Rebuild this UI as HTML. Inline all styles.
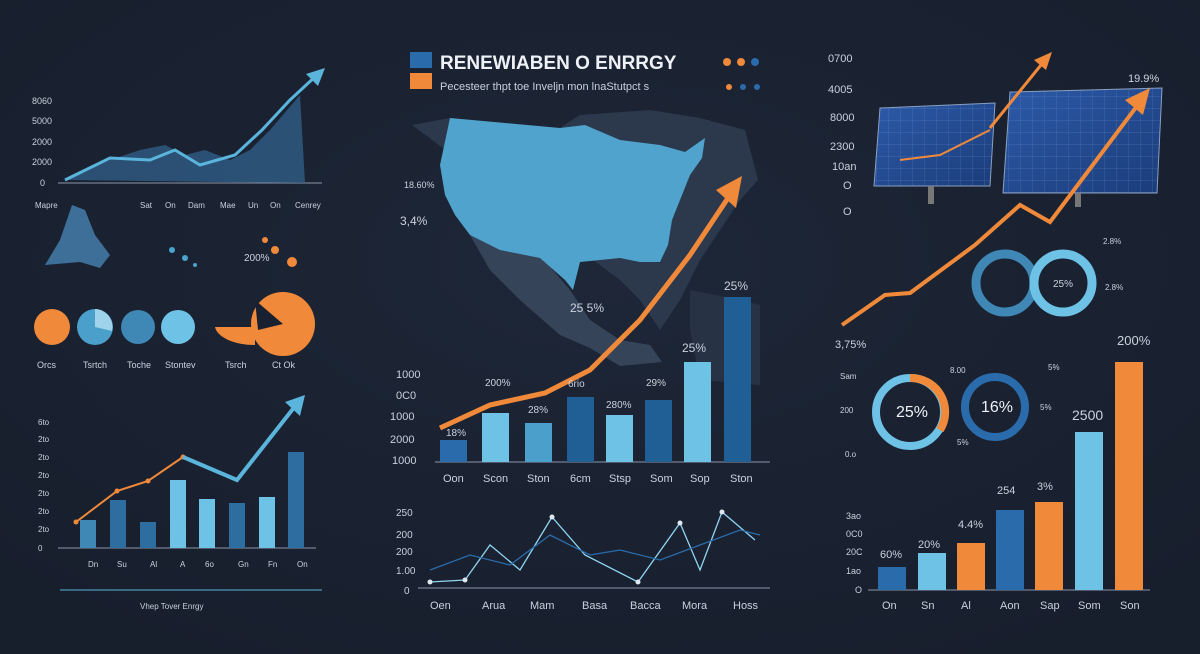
<!DOCTYPE html>
<html><head><meta charset="utf-8"><style>
html,body{margin:0;padding:0;background:#19202f;}
svg{display:block}
text{font-family:"Liberation Sans",sans-serif;fill:#c9d1dc}
</style></head><body>
<svg width="1200" height="654" viewBox="0 0 1200 654" xmlns="http://www.w3.org/2000/svg">
<defs>
<radialGradient id="bg" cx="50%" cy="40%" r="70%"><stop offset="0" stop-color="#1e2738"/><stop offset="1" stop-color="#171e2c"/></radialGradient>
<linearGradient id="pan" x1="0" y1="0" x2="1" y2="1"><stop offset="0" stop-color="#2c5aa8"/><stop offset="1" stop-color="#1b3c7a"/></linearGradient>
<pattern id="grid" width="12" height="12" patternUnits="userSpaceOnUse"><path d="M12 0 L0 0 0 12" fill="none" stroke="#7fa4d8" stroke-width="0.5" opacity="0.6"/></pattern>
</defs>
<rect width="1200" height="654" fill="url(#bg)"/>

<!-- LEFT TOP line chart -->
<g font-size="9">
<text x="32" y="104">8060</text><text x="32" y="124">5000</text><text x="32" y="145">2000</text><text x="32" y="165">2000</text><text x="40" y="186">0</text>
</g>
<line x1="58" y1="183" x2="322" y2="183" stroke="#8a96a8" stroke-width="1"/>
<path d="M65 180 L110 160 L140 150 L165 145 L185 155 L205 150 L230 160 L250 150 L270 130 L300 95 L305 183 Z" fill="#2f5d86" opacity="0.8"/>
<path d="M65 180 L110 158 L150 160 L175 150 L200 165 L235 155 L262 130 L290 100 L318 74" stroke="#5ab4dc" stroke-width="3" fill="none"/>
<polygon points="325,68 306,74 318,86" fill="#5ab4dc"/>
<g font-size="8"><text x="35" y="208">Mapre</text><text x="140" y="208">Sat</text><text x="165" y="208">On</text><text x="188" y="208">Dam</text><text x="220" y="208">Mae</text><text x="248" y="208">Un</text><text x="270" y="208">On</text><text x="295" y="208">Cenrey</text></g>
<path d="M45 265 L60 240 L72 205 L85 210 L95 235 L110 255 L100 268 L80 262 Z" fill="#3e6f99"/>
<circle cx="172" cy="250" r="3" fill="#4ba3cf"/><circle cx="185" cy="258" r="3" fill="#4ba3cf"/><circle cx="195" cy="265" r="2" fill="#4ba3cf"/>
<circle cx="265" cy="240" r="3" fill="#f08a3a"/><circle cx="275" cy="250" r="4" fill="#f08a3a"/><circle cx="292" cy="262" r="5" fill="#f08a3a"/>
<text x="244" y="261" font-size="10">200%</text>
<!-- circles row -->
<circle cx="52" cy="327" r="18" fill="#f08a3a"/>
<circle cx="95" cy="327" r="18" fill="#4aa0cb"/><path d="M95 327 L95 309 A18 18 0 0 1 112 331 Z" fill="#9fd3ec"/>
<circle cx="138" cy="327" r="17" fill="#3f87b5"/>
<circle cx="178" cy="327" r="17" fill="#6ec2e6"/>
<path d="M215 327 L255 327 L255 345 A40 20 0 0 1 215 327 Z" fill="#f08a3a"/>
<circle cx="283" cy="324" r="32" fill="#f08a3a"/><path d="M283 324 L255 300 L258 330 Z" fill="#19202f"/>
<g font-size="9"><text x="37" y="368">Orcs</text><text x="83" y="368">Tsrtch</text><text x="127" y="368">Toche</text><text x="165" y="368">Stontev</text><text x="225" y="368">Tsrch</text><text x="272" y="368">Ct Ok</text></g>
<!-- left bottom bars -->
<g font-size="8"><text x="38" y="425">6to</text><text x="38" y="442">2to</text><text x="38" y="460">2to</text><text x="38" y="478">2to</text><text x="38" y="496">2to</text><text x="38" y="514">2to</text><text x="38" y="532">2to</text><text x="38" y="551">0</text></g>
<line x1="58" y1="548" x2="316" y2="548" stroke="#8a96a8"/>
<rect x="80" y="520" width="16" height="28" fill="#3f87b5"/>
<rect x="110" y="500" width="16" height="48" fill="#2d6da0"/>
<rect x="140" y="522" width="16" height="26" fill="#2d6da0"/>
<rect x="170" y="480" width="16" height="68" fill="#6ec2e6"/>
<rect x="199" y="499" width="16" height="49" fill="#6ec2e6"/>
<rect x="229" y="503" width="16" height="45" fill="#2d6da0"/>
<rect x="259" y="497" width="16" height="51" fill="#6ec2e6"/>
<rect x="288" y="452" width="16" height="96" fill="#2d6da0"/>
<polyline points="76,522 117,491 148,481 183,457" stroke="#f08a3a" stroke-width="2" fill="none"/>
<g fill="#f08a3a"><circle cx="76" cy="522" r="2.5"/><circle cx="117" cy="491" r="2.5"/><circle cx="148" cy="481" r="2.5"/><circle cx="183" cy="457" r="2.5"/></g>
<polyline points="183,457 237,480 296,405" stroke="#5ab4dc" stroke-width="4" fill="none"/>
<polygon points="305,395 285,402 300,416" fill="#5ab4dc"/>
<g font-size="8"><text x="88" y="567">Dn</text><text x="117" y="567">Su</text><text x="150" y="567">Al</text><text x="180" y="567">A</text><text x="205" y="567">6o</text><text x="238" y="567">Gn</text><text x="268" y="567">Fn</text><text x="297" y="567">On</text></g>
<line x1="60" y1="590" x2="322" y2="590" stroke="#5ab4dc" stroke-width="1"/>
<text x="140" y="609" font-size="8">Vhep Tover Enrgy</text>

<!-- CENTER title -->
<rect x="410" y="52" width="22" height="16" fill="#2a6cab"/>
<rect x="410" y="73" width="22" height="16" fill="#f08a3a"/>
<text x="440" y="69" font-size="19" font-weight="bold" style="fill:#eef2f6">RENEWIABEN O ENRRGY</text>
<circle cx="727" cy="62" r="4" fill="#f08a3a"/><circle cx="741" cy="62" r="4" fill="#f08a3a"/><circle cx="755" cy="62" r="4" fill="#2a6cab"/>
<text x="440" y="90" font-size="11">Pecesteer  thpt  toe  Inveljn  mon  lnaStutpct  s</text>
<circle cx="729" cy="87" r="3" fill="#f08a3a"/><circle cx="743" cy="87" r="3" fill="#2a6cab"/><circle cx="757" cy="87" r="3" fill="#2a6cab"/>
<!-- map -->
<path d="M412 125 L450 118 L560 128 L580 115 L650 110 L700 118 L745 130 L758 180 L740 200 L720 230 L700 260 L680 300 L660 330 L640 300 L620 280 Z" fill="#2c394d"/>
<path d="M470 235 L540 255 L570 290 L590 320 L620 340 L650 345 L662 362 L620 366 L590 348 L560 335 L520 300 L490 270 Z" fill="#36445a"/>
<path d="M690 290 L740 300 L760 305 L760 385 L700 380 L690 330 Z" fill="#2a3648" opacity="0.8"/>
<path d="M450 118 L560 128 L585 125 L620 140 L660 145 L685 152 L705 138 L702 158 L690 175 L680 200 L672 220 L668 245 L660 262 L640 262 L620 258 L580 262 L573 290 L565 280 L540 258 L500 250 L470 235 L455 215 L445 195 L440 165 Z" fill="#4fa3cc"/>
<text x="404" y="188" font-size="9">18.60%</text>
<text x="400" y="225" font-size="12">3,4%</text>
<!-- center bars -->
<g font-size="11"><text x="396" y="378">1000</text><text x="396" y="399">0C0</text><text x="390" y="420">1000</text><text x="390" y="443">2000</text><text x="392" y="464">1000</text></g>
<line x1="435" y1="462" x2="770" y2="462" stroke="#8a96a8"/>
<rect x="440" y="440" width="27" height="22" fill="#2a6cab"/>
<rect x="482" y="413" width="27" height="49" fill="#6ec2e6"/>
<rect x="525" y="423" width="27" height="39" fill="#4aa0cb"/>
<rect x="567" y="397" width="27" height="65" fill="#1f5f95"/>
<rect x="606" y="415" width="27" height="47" fill="#6ec2e6"/>
<rect x="645" y="400" width="27" height="62" fill="#1f5f95"/>
<rect x="684" y="362" width="27" height="100" fill="#6ec2e6"/>
<rect x="724" y="297" width="27" height="165" fill="#1f5f95"/>
<path d="M440 428 L490 405 L545 393 L590 370 L640 320 L690 255 L730 195" stroke="#f08a3a" stroke-width="5" fill="none"/>
<polygon points="742,176 716,190 736,208" fill="#f08a3a"/>
<g font-size="10"><text x="446" y="436">18%</text><text x="485" y="386">200%</text><text x="528" y="413">28%</text><text x="568" y="387">6rio</text><text x="606" y="408">280%</text><text x="646" y="386">29%</text><text x="682" y="352" font-size="12">25%</text><text x="724" y="290" font-size="12">25%</text><text x="570" y="312" font-size="12">25 5%</text></g>
<g font-size="11"><text x="443" y="482">Oon</text><text x="483" y="482">Scon</text><text x="527" y="482">Ston</text><text x="570" y="482">6cm</text><text x="609" y="482">Stsp</text><text x="650" y="482">Som</text><text x="690" y="482">Sop</text><text x="730" y="482">Ston</text></g>
<!-- center bottom line chart -->
<g font-size="10"><text x="396" y="516">250</text><text x="396" y="538">200</text><text x="396" y="555">200</text><text x="396" y="574">1.00</text><text x="404" y="594">0</text></g>
<line x1="418" y1="588" x2="770" y2="588" stroke="#8a96a8"/>
<polyline points="430,582 465,580 490,545 520,570 552,517 585,555 638,582 680,523 700,570 722,512 755,540" stroke="#8fd4f0" stroke-width="1.3" fill="none"/>
<polyline points="430,570 470,555 510,565 550,535 590,555 620,550 660,560 700,545 740,530 760,535" stroke="#2a6cab" stroke-width="1.3" fill="none"/>
<g fill="#dfe8f0"><circle cx="430" cy="582" r="2.5"/><circle cx="465" cy="580" r="2.5"/><circle cx="552" cy="517" r="2.5"/><circle cx="638" cy="582" r="2.5"/><circle cx="680" cy="523" r="2.5"/><circle cx="722" cy="512" r="2.5"/></g>
<g font-size="11"><text x="430" y="609">Oen</text><text x="482" y="609">Arua</text><text x="530" y="609">Mam</text><text x="582" y="609">Basa</text><text x="630" y="609">Bacca</text><text x="682" y="609">Mora</text><text x="733" y="609">Hoss</text></g>

<!-- RIGHT TOP -->
<g font-size="11"><text x="828" y="62">0700</text><text x="828" y="93">4005</text><text x="830" y="121">8000</text><text x="830" y="150">2300</text><text x="832" y="170">10an</text><text x="843" y="189">O</text><text x="843" y="215">O</text></g>
<polygon points="880,108 995,103 990,186 874,186" fill="url(#pan)" stroke="#8aa0c0"/>
<polygon points="880,108 995,103 990,186 874,186" fill="url(#grid)"/>
<polygon points="1010,92 1162,88 1157,193 1003,193" fill="url(#pan)" stroke="#8aa0c0"/>
<polygon points="1010,92 1162,88 1157,193 1003,193" fill="url(#grid)"/>
<rect x="928" y="186" width="6" height="18" fill="#777"/><rect x="1075" y="193" width="6" height="14" fill="#777"/>
<text x="1128" y="82" font-size="11">19.9%</text>
<polyline points="900,160 940,155 990,130" stroke="#f08a3a" stroke-width="2" fill="none"/>
<path d="M842 325 L885 295 L910 293 L975 245 L1020 205 L1050 222 L1140 102" stroke="#f08a3a" stroke-width="4" fill="none"/>
<polygon points="1150,88 1125,100 1143,115" fill="#f08a3a"/>
<polyline points="990,128 1045,60" stroke="#f08a3a" stroke-width="3" fill="none"/><polygon points="1052,52 1034,60 1046,70" fill="#f08a3a"/>
<circle cx="1005" cy="283" r="29" fill="none" stroke="#3f87b5" stroke-width="9"/>
<circle cx="1063" cy="283" r="29" fill="none" stroke="#6ec2e6" stroke-width="9"/>
<text x="1053" y="287" font-size="10">25%</text>
<text x="1103" y="244" font-size="8">2.8%</text><text x="1105" y="290" font-size="8">2.8%</text>
<!-- right bottom -->
<text x="835" y="348" font-size="11">3,75%</text>
<text x="1117" y="345" font-size="13">200%</text>
<g font-size="8"><text x="840" y="379">Sam</text><text x="840" y="413">200</text><text x="845" y="457">0.o</text><text x="1048" y="370">5%</text><text x="1040" y="410">5%</text><text x="950" y="373">8.00</text><text x="957" y="445">5%</text></g>
<circle cx="910" cy="412" r="34" fill="none" stroke="#6ec2e6" stroke-width="8"/>
<path d="M910 378 A34 34 0 0 1 940 430" fill="none" stroke="#f08a3a" stroke-width="8"/>
<text x="896" y="417" font-size="16" style="fill:#eef2f6">25%</text>
<circle cx="995" cy="407" r="30" fill="none" stroke="#2a6cab" stroke-width="8"/>
<text x="981" y="412" font-size="16" style="fill:#eef2f6">16%</text>
<g font-size="9"><text x="846" y="519">3ao</text><text x="846" y="537">0C0</text><text x="846" y="555">20C</text><text x="846" y="574">1ao</text><text x="855" y="593">O</text></g>
<line x1="868" y1="590" x2="1150" y2="590" stroke="#8a96a8"/>
<rect x="878" y="567" width="28" height="23" fill="#2a6cab"/>
<rect x="918" y="553" width="28" height="37" fill="#6ec2e6"/>
<rect x="957" y="543" width="28" height="47" fill="#f08a3a"/>
<rect x="996" y="510" width="28" height="80" fill="#2a6cab"/>
<rect x="1035" y="502" width="28" height="88" fill="#f08a3a"/>
<rect x="1075" y="432" width="28" height="158" fill="#6ec2e6"/>
<rect x="1115" y="362" width="28" height="228" fill="#f08a3a"/>
<g font-size="11"><text x="880" y="558">60%</text><text x="918" y="548">20%</text><text x="958" y="528">4.4%</text><text x="997" y="494">254</text><text x="1037" y="490">3%</text><text x="1072" y="420" font-size="14">2500</text></g>
<g font-size="11"><text x="882" y="609">On</text><text x="921" y="609">Sn</text><text x="961" y="609">Al</text><text x="1000" y="609">Aon</text><text x="1040" y="609">Sap</text><text x="1078" y="609">Som</text><text x="1120" y="609">Son</text></g>
</svg>
</body></html>
